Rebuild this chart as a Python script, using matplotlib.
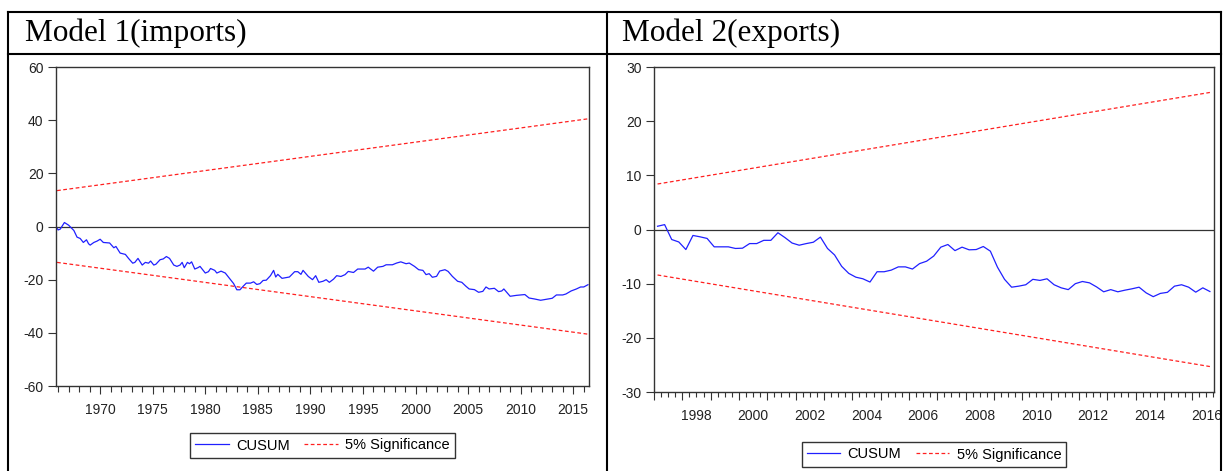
import numpy as np
import matplotlib
matplotlib.use("Agg")
import matplotlib.pyplot as plt
from matplotlib.lines import Line2D

plt.rcParams["font.family"] = ["Liberation Sans", "DejaVu Sans"]
plt.rcParams["axes.unicode_minus"] = False

# Model 1 (imports) - CUSUM
years1 = [1965.9, 1966.0, 1966.2, 1966.6, 1967.0, 1967.5, 1967.8, 1968.1, 1968.4, 1968.7,
          1968.9, 1969.05, 1969.4, 1969.7, 1970.0, 1970.3, 1970.9, 1971.3, 1971.5, 1971.9,
          1972.4, 1972.7, 1973.1, 1973.3, 1973.6, 1974.0, 1974.3, 1974.6, 1974.8, 1975.1,
          1975.3, 1975.7, 1976.0, 1976.3, 1976.6, 1977.0, 1977.3, 1977.6, 1977.8, 1978.0,
          1978.3, 1978.5, 1978.7, 1979.0, 1979.3, 1979.5, 1980.0, 1980.3, 1980.5, 1980.9,
          1981.1, 1981.5, 1981.9, 1982.3, 1982.7, 1983.0, 1983.3, 1983.6, 1983.9, 1984.3,
          1984.6, 1984.9, 1985.2, 1985.5, 1985.8, 1986.2, 1986.5, 1986.7, 1986.9, 1987.3,
          1988.0, 1988.5, 1988.8, 1989.1, 1989.3, 1989.8, 1990.2, 1990.5, 1990.8, 1991.2,
          1991.5, 1991.8, 1992.2, 1992.5, 1992.9, 1993.3, 1993.6, 1994.1, 1994.5, 1995.2,
          1995.5, 1996.0, 1996.4, 1996.9, 1997.2, 1997.8, 1998.2, 1998.6, 1999.1, 1999.4,
          1999.9, 2000.3, 2000.7, 2001.0, 2001.3, 2001.6, 2002.0, 2002.3, 2002.8, 2003.1,
          2003.5, 2004.0, 2004.4, 2004.8, 2005.1, 2005.6, 2006.0, 2006.4, 2006.7, 2007.0,
          2007.5, 2007.9, 2008.2, 2008.4, 2009.0, 2009.6, 2010.0, 2010.4, 2010.8, 2011.3,
          2011.9, 2012.6, 2013.0, 2013.4, 2014.0, 2014.3, 2014.8, 2015.3, 2015.7, 2016.0,
          2016.4]
cusum1 = [-0.6, -1.3, -1.0, 1.5, 0.5, -1.5, -4.0, -4.5, -6.0, -5.0,
          -6.5, -7.0, -6.0, -5.5, -4.8, -6.0, -6.2, -8.0, -7.5, -10.0,
          -10.5, -12.0, -13.8, -13.5, -12.0, -14.5, -13.5, -13.8, -13.0, -14.5,
          -14.2, -12.5, -12.2, -11.3, -12.0, -14.5, -15.0, -14.5, -13.5, -15.5,
          -13.5, -14.0, -13.3, -16.0, -15.5, -15.0, -17.5, -17.0, -15.8, -16.5,
          -17.5, -16.8, -17.5, -19.5, -21.5, -23.8, -23.8, -22.5, -21.3, -21.3,
          -20.8, -21.8, -21.5, -20.3, -20.2, -18.5, -16.5, -19.0, -18.0, -19.5,
          -19.0, -17.0, -17.0, -18.0, -16.5, -18.8, -20.0, -18.5, -21.0, -20.6,
          -20.0, -21.0, -19.8, -18.5, -18.8, -18.1, -16.9, -17.3, -16.0, -16.0,
          -15.3, -16.8, -15.3, -15.0, -14.4, -14.4, -13.75, -13.3, -14.0, -13.75,
          -15.0, -16.25, -16.5, -18.1, -17.75, -19.1, -18.75, -16.75, -16.25, -16.9,
          -18.75, -20.6, -21.0, -22.5, -23.5, -23.75, -24.75, -24.4, -22.75, -23.5,
          -23.25, -24.5, -24.25, -23.5, -26.25, -25.9, -25.75, -25.6, -26.9, -27.25,
          -27.75, -27.25, -27.0, -25.75, -25.75, -25.4, -24.25, -23.5, -22.75, -22.75,
          -21.9]
bound1 = [13.5, 40.5]   # banda 5% al inicio y al final

# Model 2 (exports) - CUSUM trimestral 1997Q1 - 2016Q3
cusum2 = [0.6, 0.9, -1.85, -2.3, -3.7, -1.1, -1.35, -1.65, -3.2, -3.2,
          -3.2, -3.5, -3.45, -2.6, -2.6, -2.0, -2.0, -0.6, -1.5, -2.5,
          -2.9, -2.6, -2.35, -1.4, -3.5, -4.7, -6.8, -8.1, -8.8, -9.1,
          -9.7, -7.8, -7.8, -7.5, -6.9, -6.9, -7.3, -6.3, -5.85, -4.9,
          -3.26, -2.77, -3.9, -3.26, -3.75, -3.7, -3.14, -4.0, -6.95, -9.2,
          -10.65, -10.46, -10.2, -9.2, -9.4, -9.1, -10.2, -10.77, -11.1, -10.0,
          -9.6, -9.85, -10.6, -11.5, -11.1, -11.5, -11.2, -10.95, -10.65, -11.7,
          -12.4, -11.8, -11.6, -10.46, -10.2, -10.65, -11.57, -10.77, -11.45]
years2 = 1997 + (np.arange(len(cusum2)) + 0.5) / 4
bound2 = [8.4, 25.3]

W, H = 1226, 471
fig = plt.figure(figsize=(W / 100, H / 100), dpi=100)

# marco de la tabla
def hline(y, x0, x1):
    fig.add_artist(Line2D([x0 / W, x1 / W], [1 - y / H, 1 - y / H], color="black", lw=1.5))

def vline(x, y0, y1):
    fig.add_artist(Line2D([x / W, x / W], [1 - y0 / H, 1 - y1 / H], color="black", lw=1.5))

hline(12, 8, 1221)
hline(54, 8, 1221)
vline(8, 12, 471)
vline(607, 12, 471)
vline(1221, 12, 471)

fig.text(25 / W, 1 - 33 / H, "Model 1(imports)", family="Liberation Serif", fontsize=22.5,
         va="center", ha="left")
fig.text(622 / W, 1 - 33 / H, "Model 2(exports)", family="Liberation Serif", fontsize=22.5,
         va="center", ha="left")

ax1 = fig.add_axes([56 / W, 1 - 386 / H, 533 / W, 319 / H])
ax2 = fig.add_axes([654 / W, 1 - 392 / H, 560 / W, 325 / H])

red = "#ff2020"
for ax in (ax1, ax2):
    for s in ax.spines.values():
        s.set_color("#333333")
        s.set_linewidth(1.0)
    ax.tick_params(axis="both", direction="out", colors="#333333", labelcolor="#222222",
                   labelsize=10, width=0.8)
    ax.tick_params(axis="y", length=6, pad=3)
    ax.axhline(0, color="#333333", lw=0.9)

# panel 1
ax1.plot(years1, cusum1, color="#2020ff", lw=0.9, label="CUSUM")
ax1.plot([years1[0], years1[-1]], bound1, color=red, lw=0.9, dashes=(3, 2), label="5% Significance")
ax1.plot([years1[0], years1[-1]], [-b for b in bound1], color=red, lw=0.9, dashes=(3, 2))
ax1.set_xlim(1965.8, 2016.5)
ax1.set_ylim(-60, 60)
ax1.set_yticks(np.arange(-60, 61, 20))
ax1.set_xticks(np.arange(1970, 2016, 5))
ax1.set_xticks(np.arange(1966, 2017, 1), minor=True)
ax1.tick_params(axis="x", which="major", length=6, pad=6)
ax1.tick_params(axis="x", which="minor", length=4, width=0.8, colors="#333333")

# panel 2
ax2.plot(years2, cusum2, color="#2020ff", lw=0.9, label="CUSUM")
ax2.plot([years2[0], years2[-1]], bound2, color=red, lw=0.9, dashes=(3, 2), label="5% Significance")
ax2.plot([years2[0], years2[-1]], [-b for b in bound2], color=red, lw=0.9, dashes=(3, 2))
ax2.set_xlim(1997.0, 2016.77)
ax2.set_ylim(-30, 30)
ax2.set_yticks(np.arange(-30, 31, 10))
lab_years = np.arange(1998, 2017, 2)
ax2.set_xticks(lab_years + 0.5, [str(y) for y in lab_years])
ax2.tick_params(axis="x", which="major", length=0, pad=12)
sec = ax2.secondary_xaxis("bottom")
sec.set_xticks(np.arange(1997, 2017, 1), labels=[])
sec.set_xticks(np.arange(1997, 2016.8, 0.25), minor=True)
sec.tick_params(which="major", direction="out", length=6, width=0.8, colors="#333333")
sec.tick_params(which="minor", direction="out", length=3.5, width=0.8, colors="#333333")
sec.spines["bottom"].set_visible(False)

for ax, cx, cy in ((ax1, 322.5, 445.5), (ax2, 934, 454.5)):
    h, l = ax.get_legend_handles_labels()
    fig.legend(h, l, loc="center", bbox_to_anchor=(cx / W, 1 - cy / H), ncol=2,
               fontsize=10.5, frameon=True, fancybox=False, edgecolor="#333333",
               framealpha=1, handlelength=2.3, columnspacing=1.0, borderpad=0.35,
               handletextpad=0.5)

fig.savefig("out.png", dpi=100)
